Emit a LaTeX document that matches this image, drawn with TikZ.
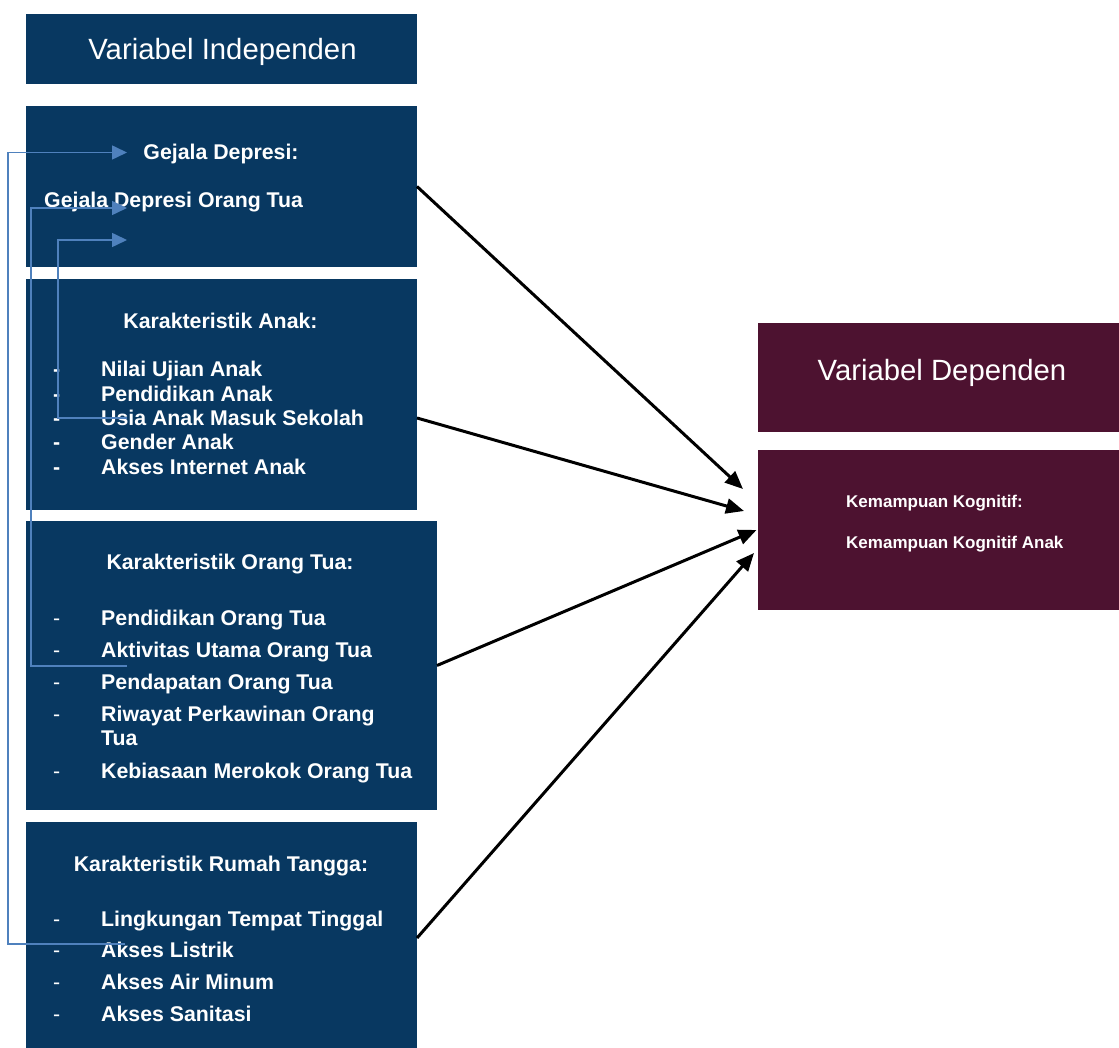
\documentclass[tikz,border=0pt]{standalone}
\usepackage{fontspec}
\setmainfont{Liberation Sans}
\usetikzlibrary{arrows.meta}
\definecolor{navy}{RGB}{8, 56, 97}
\definecolor{wine}{RGB}{77, 18, 48}
\definecolor{steel}{RGB}{79, 129, 189}

\begin{document}
\begin{tikzpicture}[x=1pt, y=-1pt,
        navybox/.style={fill=navy, draw=none, inner sep=0pt, outer sep=0pt},
        winebox/.style={fill=wine, draw=none, inner sep=0pt, outer sep=0pt},
        title/.style={text=white, font=\fontsize{29.3}{34}\selectfont, anchor=base, inner sep=0pt},
        head/.style={text=white, font=\fontsize{21.3}{25}\selectfont\bfseries, anchor=base, inner sep=0pt},
        item/.style={text=white, font=\fontsize{21.3}{25}\selectfont\bfseries, anchor=base west, inner sep=0pt},
        thindash/.style={item, font=\fontsize{21.3}{25}\selectfont},
        small/.style={item, font=\fontsize{17}{20}\selectfont\bfseries},
        link/.style={steel, line width=1.6pt, -{Triangle[length=15pt, width=14pt]}},
        effect/.style={black, line width=3pt, -{Triangle[length=18pt, width=15pt]}}]
            \useasboundingbox (0,0) rectangle (1119,1048);
            % Independent side
            \node[navybox, minimum width=391pt, minimum height=70pt]  (indep)  at (221.5, 49.0) {};
            \node[navybox, minimum width=391pt, minimum height=161pt] (gejala) at (221.5,186.5) {};
            \node[navybox, minimum width=391pt, minimum height=231pt] (anak)   at (221.5,394.5) {};
            \node[navybox, minimum width=411pt, minimum height=289pt] (ortu)   at (231.5,665.5) {};
            \node[navybox, minimum width=391pt, minimum height=226pt] (rumah)  at (221.5,935.0) {};
            % Dependent side
            \node[winebox, minimum width=361pt, minimum height=109pt] (dep)      at (938.5,377.5) {};
            \node[winebox, minimum width=361pt, minimum height=160pt] (kognitif) at (938.5,530.0) {};
            % Titles
            \node[title] (indeplabel) at (222.5, 60) {Variabel Independen};
            \node[title] (deplabel)   at (942.0,381) {Variabel Dependen};
            % Gejala Depresi
            \node[head] (gejalahead) at (221,160) {Gejala Depresi:};
            \node[item] (gejala1)    at ( 44,208) {Gejala Depresi Orang Tua};
            % Karakteristik Anak
            \node[head] (anakhead) at (220.5,329) {Karakteristik Anak:};
            \foreach \t [count=\i] in {Nilai Ujian Anak, Pendidikan Anak, Usia Anak Masuk Sekolah,
                                       Gender Anak, Akses Internet Anak} {
                \node[item] (anakdash\i) at ( 53,352.7+24.3*\i) {-};
                \node[item] (anak\i)     at (101,352.7+24.3*\i) {\t};
            }
            % Karakteristik Orang Tua
            \node[head] (ortuhead) at (230,569.5) {Karakteristik Orang Tua:};
            \foreach \y/\t [count=\i] in {625/Pendidikan Orang Tua, 657/Aktivitas Utama Orang Tua,
                                          689/Pendapatan Orang Tua, 721.5/Riwayat Perkawinan Orang,
                                          778/Kebiasaan Merokok Orang Tua} {
                \node[thindash] (ortudash\i) at ( 53,\y) {-};
                \node[item]     (ortu\i)     at (101,\y) {\t};
            }
            \node[item] (ortu4b) at (101,745.5) {Tua};
            % Karakteristik Rumah Tangga
            \node[head] (rumahhead) at (221,871) {Karakteristik Rumah Tangga:};
            \foreach \t [count=\i] in {Lingkungan Tempat Tinggal, Akses Listrik, Akses Air Minum, Akses Sanitasi} {
                \node[thindash] (rumahdash\i) at ( 53,894.1+31.9*\i) {-};
                \node[item]     (rumah\i)     at (101,894.1+31.9*\i) {\t};
            }
            % Kemampuan Kognitif
            \node[small] (kognitifhead) at (846,507) {Kemampuan Kognitif:};
            \node[small] (kognitif1)    at (846,548) {Kemampuan Kognitif Anak};
            % Arrow ends
            \coordinate (in1) at ([xshift=-15pt, yshift= 41pt]kognitif.west);
            \coordinate (in2) at ([xshift=-14pt, yshift= 19pt]kognitif.west);
            \coordinate (in3) at ([xshift=-1.5pt]kognitif.west);
            \coordinate (in4) at ([xshift=-4pt,  yshift=-23pt]kognitif.west);
            \draw[effect] (gejala.east)                  -- (in1);
            \draw[effect] ([yshift=-23.5pt]anak.east)    -- (in2);
            \draw[effect] (ortu.east)                    -- (in3);
            \draw[effect] ([yshift=-3pt]rumah.east)      -- (in4);
            % Blue links
            \coordinate (src1) at (125,944); \coordinate (dst1) at (127,152.5);
            \coordinate (src2) at (127,666); \coordinate (dst2) at (127,208);
            \coordinate (src3) at (127,418); \coordinate (dst3) at (127,240);
            \draw[link] (src1) -- ++(-117,0) |- (dst1);
            \draw[link] (src2) -- ++( -96,0) |- (dst2);
            \draw[link] (src3) -- ++( -69,0) |- (dst3);
\end{tikzpicture}
\end{document}
